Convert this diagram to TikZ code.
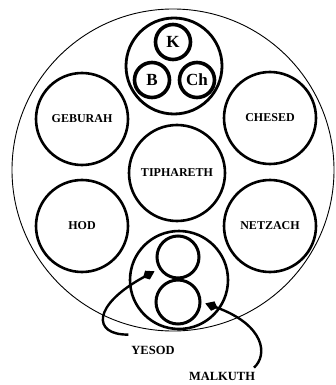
\documentclass[tikz,border=0pt]{standalone}
\usepackage{fontspec}
\setmainfont{Liberation Serif}
\usepackage{xcolor}
\usepackage{tikz}
\usetikzlibrary{arrows.meta}

\begin{document}
\begin{tikzpicture}[
        x=1pt, y=-1pt,
        sefira/.style={
            circle,
            draw=black,
            line width=2.6pt,
            minimum size=92pt,
            inner sep=0pt,
            font=\fontsize{12}{12}\selectfont\bfseries
        },
        supernal/.style={
            circle,
            draw=black,
            line width=3.6pt,
            minimum size=35pt,
            inner sep=0pt,
            font=\fontsize{17}{17}\selectfont\bfseries
        },
        sefname/.style={font=\fontsize{12.5}{12.5}\selectfont\bfseries, inner sep=1pt},
        pointer/.style={line width=2.4pt, draw=black,
            -{Kite[length=13pt, width=10pt, inset=5pt]}}
    ]
        \useasboundingbox (0,0) rectangle (335,385);

        % outer boundary
        \node[circle, draw=black, line width=0.9pt, minimum size=322pt, inner sep=0pt] (tree) at (173,170) {};

        % the supernal triad
        \node[sefira, line width=2.8pt, minimum size=96pt] (crown) at (174,66) {};
        \node[supernal] (kether) at (173,42) {K};
        \node[supernal] (binah) at (152,80) {B};
        \node[supernal] (chokmah) at (197,80) {Ch};

        \node[sefira] (geburah) at (82,119) {GEBURAH};
        \node[sefira] (chesed) at (270,118) {CHESED};
        \node[sefira, minimum size=96pt] (tiphareth) at (177,173) {TIPHARETH};
        \node[sefira] (hod) at (82,226) {HOD};
        \node[sefira] (netzach) at (270,226) {NETZACH};

        % yesod and malkuth
        \node[sefira, minimum size=98pt] (base) at (179,280) {};
        \node[sefira, line width=3pt, minimum size=42pt] (yesod) at (178,257) {};
        \node[sefira, line width=3pt, minimum size=44pt] (malkuth) at (178,302) {};

        \node[sefname] (yesodlbl) at (153,350) {YESOD};
        \node[sefname] (malkuthlbl) at (222,376) {MALKUTH};

        \draw[pointer, shorten >=5pt] ([shift={(-2,-10)}]yesodlbl.north west)
            .. controls (92,335) and (92,305) .. (yesod.212);
        \draw[pointer, shorten >=4pt] ([shift={(32,-3)}]malkuthlbl.north)
            .. controls (268,355) and (265,325) .. (malkuth.0);
    \end{tikzpicture}
\end{document}
